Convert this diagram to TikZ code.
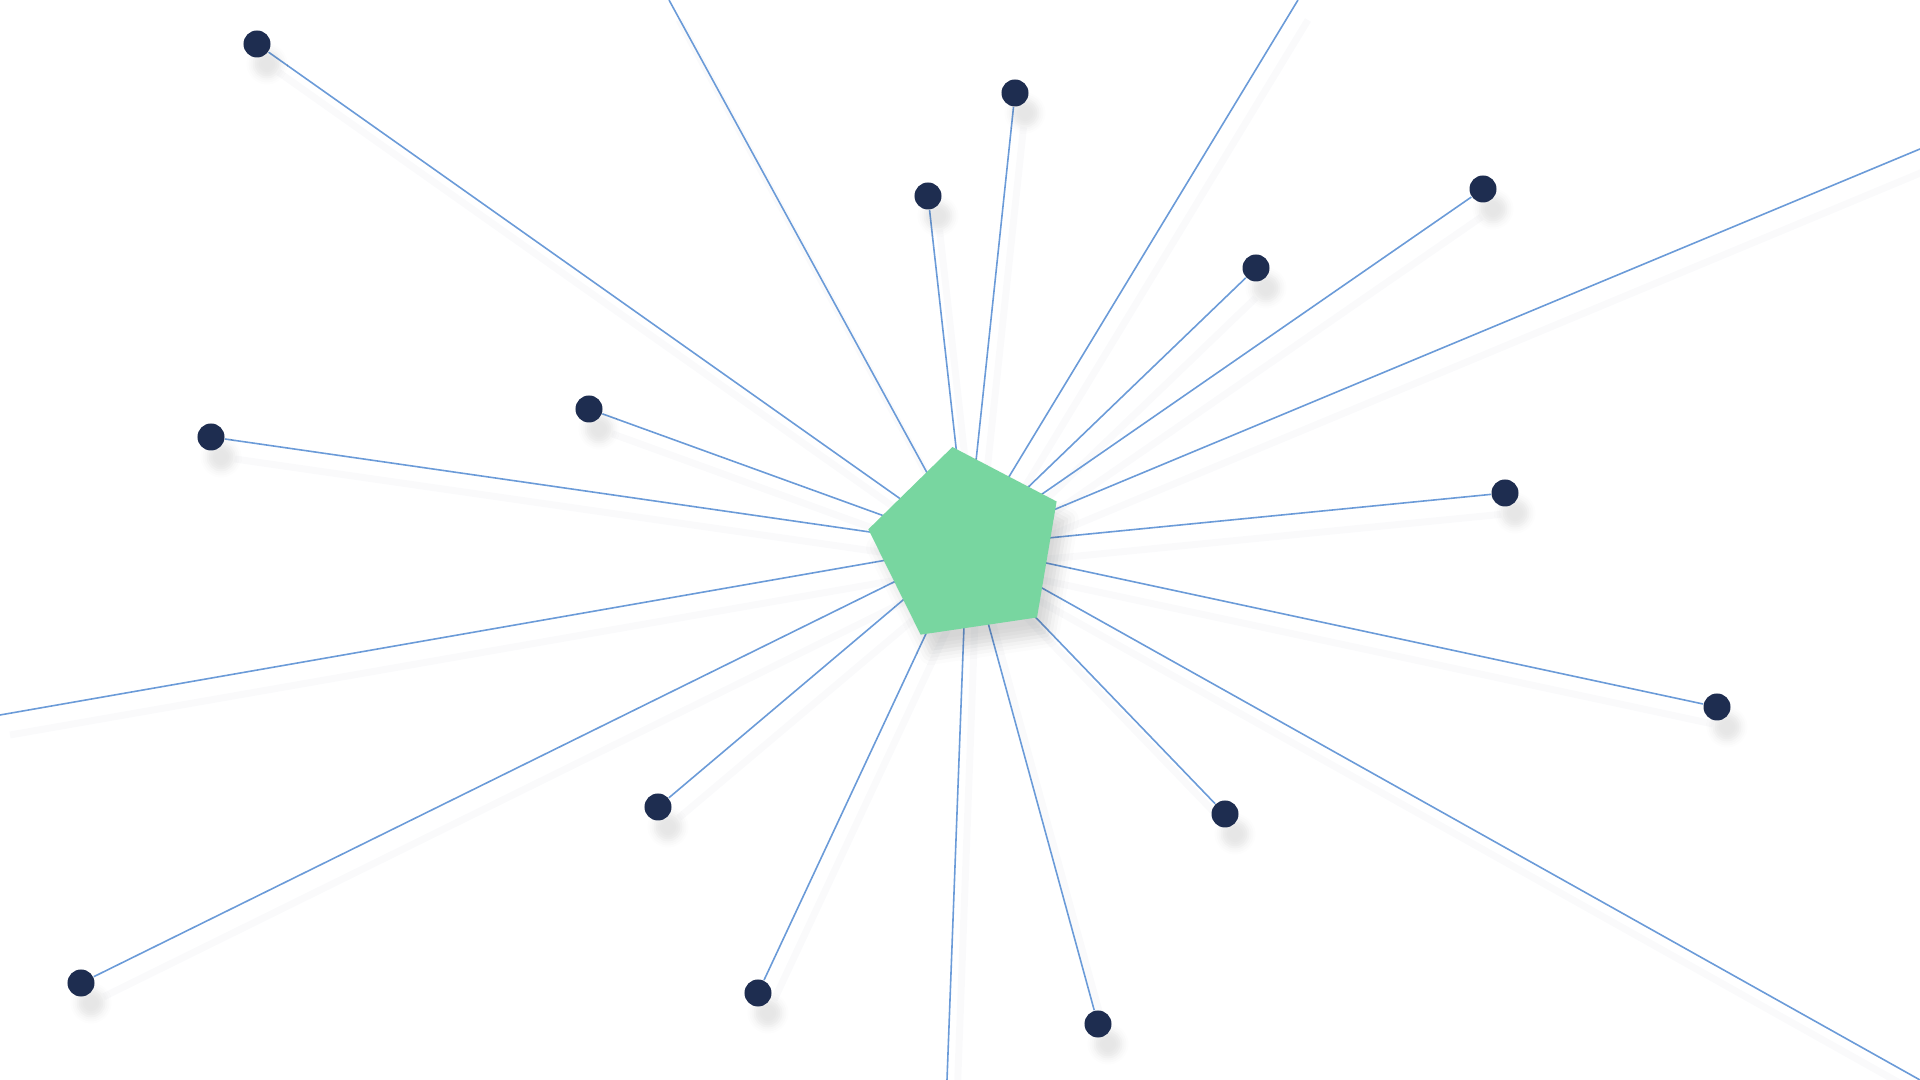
\documentclass[tikz,border=0pt]{standalone}
\usetikzlibrary{shapes.geometric,shadows.blur,backgrounds}

\definecolor{hubgreen}{HTML}{78D6A0}
\definecolor{leafnavy}{HTML}{1E2D50}
\definecolor{spokeblue}{HTML}{6B9BD8}
\definecolor{shadegrey}{HTML}{5A6A8A}

\tikzset{
  hub/.style={regular polygon,regular polygon sides=5,shape border rotate=8.4,
    minimum size=2cm,inner sep=0pt,outer sep=0pt,fill=hubgreen,
    blur shadow={shadow xshift=0.1cm,shadow yshift=-0.18cm,shadow opacity=16,shadow blur radius=0.12cm}},
  leaf/.style={circle,minimum size=0.27cm,inner sep=0pt,fill=leafnavy,
    blur shadow={shadow xshift=0.1cm,shadow yshift=-0.2cm,shadow opacity=10,shadow blur radius=0.07cm}},
  spoke/.style={draw=spokeblue,line width=0.016cm},
  spokeshade/.style={draw=shadegrey,opacity=0.03,line width=0.07cm,
    transform canvas={shift={(10,20)}}}
}

\begin{document}
\begin{tikzpicture}[x=0.01cm,y=-0.01cm]
  \useasboundingbox (0,0) rectangle (1920,1080);
  \clip (0,0) rectangle (1920,1080);

  % centre piece
  \node[hub] (hub) at (967,546) {};

  % the dots
  \foreach \n/\x/\y in {d1/257/44,d2/1015/93,d3/928/196,d4/1483/189,
      d5/1256/268,d6/589/409,d7/211/437,d8/1505/493,d9/1717/707,
      d10/1225/814,d11/658/807,d12/81/983,d13/758/993,d14/1098/1024}
    \node[leaf] (\n) at (\x,\y) {};

  % spokes that leave the picture
  \coordinate (e1) at (669,0);
  \coordinate (e2) at (1298,0);
  \coordinate (e3) at (1920,149);
  \coordinate (e4) at (0,715);
  \coordinate (e5) at (947,1080);
  \coordinate (e6) at (1920,1080);

  \begin{scope}[on background layer]
    \foreach \n in {d1,d2,d3,d4,d5,d6,d7,d8,d9,d10,d11,d12,d13,d14,e1,e2,e3,e4,e5,e6}
      \draw[spokeshade] (hub.center) -- (\n);
    \foreach \n in {d1,d2,d3,d4,d5,d6,d7,d8,d9,d10,d11,d12,d13,d14,e1,e2,e3,e4,e5,e6}
      \draw[spoke] (hub.center) -- (\n);
  \end{scope}
\end{tikzpicture}
\end{document}
